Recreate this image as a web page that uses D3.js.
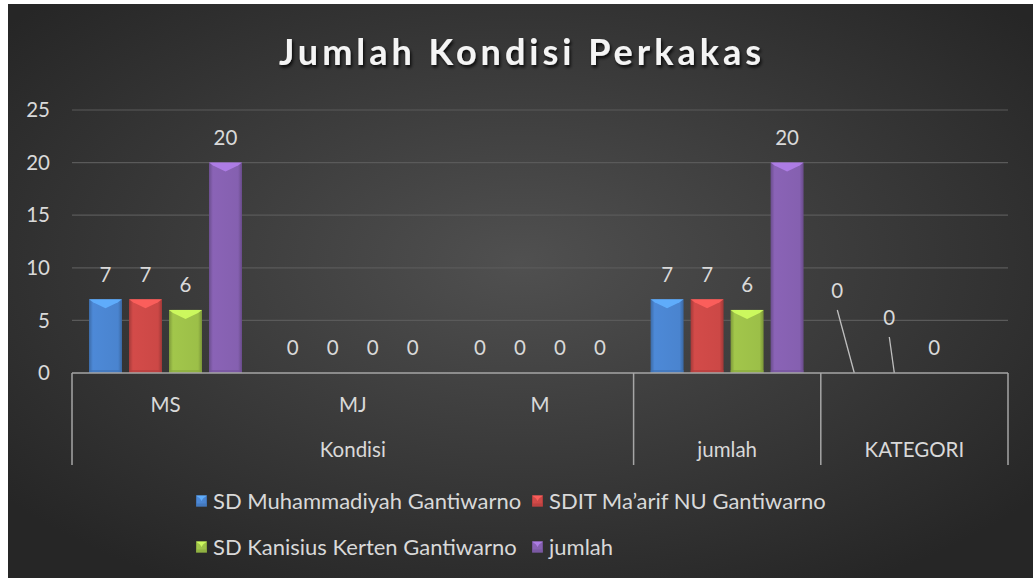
<!DOCTYPE html>
<meta charset="utf-8">
<style>
body { margin: 0; background: #fff; }
svg { display: block; }
text { font-family: Lato, "Open Sans", sans-serif; fill: #d9d9d9; }
.title { font-weight: bold; fill: #f4f4f4; letter-spacing: 4px; }
</style>
<script src="https://d3js.org/d3.v7.min.js"></script>
<body>
<svg width="1033" height="578"></svg>
</body>
<script>

// categories (two-level axis)
var categories = ["MS", "MJ", "M", "jumlah", "KATEGORI"];
var groups = ["Kondisi", "Kondisi", "Kondisi", "jumlah", "KATEGORI"];

// series values
var muhammadiyah = [7, 0, 0, 7, 0];
var maarif = [7, 0, 0, 7, 0];
var kanisius = [6, 0, 0, 6, 0];
var jumlah = [20, 0, 0, 20, null];

var seriesNames = ["SD Muhammadiyah Gantiwarno", "SDIT Ma\u2019arif NU Gantiwarno",
                   "SD Kanisius Kerten Gantiwarno", "jumlah"];
var yTicks = [0, 5, 10, 15, 20, 25];

var colors = ["#4a84cf", "#cc4846", "#9cbf48", "#8560b0"];
var series = [muhammadiyah, maarif, kanisius, jumlah];

var fs = "20.5px";

var svg = d3.select("svg");
var defs = svg.append("defs");

// background gradient
var bg = defs.append("radialGradient").attr("id", "bg")
    .attr("cx", "50%").attr("cy", "45%").attr("r", "65%");
bg.append("stop").attr("offset", "0%").attr("stop-color", "#505050");
bg.append("stop").attr("offset", "100%").attr("stop-color", "#262626");

svg.append("rect").attr("x", 8).attr("y", 4).attr("width", 1025).attr("height", 574)
    .attr("fill", "url(#bg)");

var shadow = defs.append("filter").attr("id", "shadow")
    .attr("x", "-10%").attr("y", "-20%").attr("width", "120%").attr("height", "150%");
shadow.append("feDropShadow").attr("dx", 1.5).attr("dy", 2.5).attr("stdDeviation", 1.5)
    .attr("flood-color", "#000").attr("flood-opacity", 0.8);

// bar gradients
colors.forEach(function(c, i) {
  var g = defs.append("linearGradient").attr("id", "bar" + i)
      .attr("x1", "0%").attr("x2", "100%").attr("y1", "0%").attr("y2", "0%");
  var base = d3.color(c);
  g.append("stop").attr("offset", "0%").attr("stop-color", base.darker(0.6));
  g.append("stop").attr("offset", "12%").attr("stop-color", base.brighter(0.1));
  g.append("stop").attr("offset", "88%").attr("stop-color", base);
  g.append("stop").attr("offset", "100%").attr("stop-color", base.darker(0.7));
});

var x0 = d3.scaleBand().domain(d3.range(categories.length)).range([72, 1008]);
var x1 = d3.scaleBand().domain(d3.range(series.length)).range([17, 170])
    .paddingInner(0.175);
var y = d3.scaleLinear().domain([0, 25]).range([373, 110]);

// gridlines
svg.append("g").selectAll("line").data(yTicks.slice(1)).enter().append("line")
    .attr("x1", 72).attr("x2", 1008)
    .attr("y1", function(d) { return y(d); }).attr("y2", function(d) { return y(d); })
    .attr("stroke", "#5a5a5a").attr("stroke-width", 1.2);

// y tick labels
svg.append("g").selectAll("text").data(yTicks).enter().append("text")
    .attr("x", 50).attr("y", function(d) { return y(d); })
    .attr("dy", "0.35em").attr("text-anchor", "end")
    .style("font-size", fs).text(function(d) { return d; });

function drawBar(g, x, yTop, w, h, i) {
  var c = d3.color(colors[i]);
  g.append("rect").attr("x", x).attr("y", yTop).attr("width", w).attr("height", h)
      .attr("fill", "url(#bar" + i + ")");
  var b = Math.min(9, h / 2);
  g.append("path")
      .attr("d", "M" + x + "," + yTop + "L" + (x + w) + "," + yTop + "L" + (x + w - 4) + "," + (yTop + 3)
        + "L" + (x + w / 2) + "," + (yTop + b) + "L" + (x + 4) + "," + (yTop + 3) + "Z")
      .attr("fill", c.brighter(0.8)).attr("opacity", 0.9);
  g.append("rect").attr("x", x).attr("y", yTop + h - 3).attr("width", w).attr("height", 3)
      .attr("fill", c.darker(0.4)).attr("opacity", 0.6);
}

// bars
var barG = svg.append("g");
series.forEach(function(vals, s) {
  vals.forEach(function(v, c) {
    if (v === null || v === 0) return;
    var bx = x0(c) + x1(s);
    drawBar(barG, bx, y(v), x1.bandwidth(), y(0) - y(v), s);
  });
});

// data labels (KATEGORI labels are dragged up with leader lines)
var moved = { "4-0": [-17, -82], "4-1": [-5, -55] };
var labG = svg.append("g");
series.forEach(function(vals, s) {
  vals.forEach(function(v, c) {
    if (v === null) return;
    var cx = x0(c) + x1(s) + x1.bandwidth() / 2;
    var cy = y(v) - 25;
    var m = moved[c + "-" + s];
    if (m) {
      labG.append("line").attr("x1", cx + m[0]).attr("y1", y(0) + m[1] + 19)
          .attr("x2", cx).attr("y2", y(0))
          .attr("stroke", "#bfbfbf").attr("stroke-width", 1.3);
      labG.append("text").attr("x", cx + m[0]).attr("y", y(0) + m[1])
          .attr("text-anchor", "middle").attr("dy", "0.35em")
          .style("font-size", fs).text(v);
    } else {
      labG.append("text").attr("x", cx).attr("y", cy)
          .attr("text-anchor", "middle").attr("dy", "0.35em")
          .style("font-size", fs).text(v);
    }
  });
});

// category axis
var axG = svg.append("g");
axG.append("line").attr("x1", 72).attr("x2", 1008).attr("y1", y(0)).attr("y2", y(0))
    .attr("stroke", "#a6a6a6").attr("stroke-width", 1.5);
var bounds = [0];
groups.forEach(function(g, i) { if (i > 0 && g !== groups[i - 1]) bounds.push(i); });
bounds.push(categories.length);
bounds.forEach(function(b) {
  var bx = b < categories.length ? x0(b) : x0.range()[1];
  axG.append("line").attr("x1", bx).attr("x2", bx).attr("y1", y(0)).attr("y2", 465)
      .attr("stroke", "#a6a6a6").attr("stroke-width", 1.5);
});
categories.forEach(function(c, i) {
  if (c === groups[i]) return;
  axG.append("text").attr("x", x0(i) + x0.bandwidth() / 2).attr("y", 405)
      .attr("dy", "0.35em").attr("text-anchor", "middle").style("font-size", fs).text(c);
});
for (var k = 0; k < bounds.length - 1; k++) {
  var a = x0(bounds[k]);
  var b = bounds[k + 1] < categories.length ? x0(bounds[k + 1]) : x0.range()[1];
  axG.append("text").attr("x", (a + b) / 2).attr("y", 450)
      .attr("dy", "0.35em").attr("text-anchor", "middle").style("font-size", fs)
      .text(groups[bounds[k]]);
}

// title
svg.append("text").attr("class", "title").attr("x", 522).attr("y", 65)
    .attr("text-anchor", "middle").style("font-size", "36px")
    .attr("filter", "url(#shadow)").text("Jumlah Kondisi Perkakas");

// legend
var legPos = [[196, 501], [532, 501], [196, 547], [532, 547]];
var legG = svg.append("g");
seriesNames.forEach(function(n, i) {
  var p = legPos[i];
  drawBar(legG, p[0], p[1] - 5.5, 11, 11, i);
  legG.append("text").attr("x", p[0] + 17).attr("y", p[1]).attr("dy", "0.35em")
      .style("font-size", "22px").text(n);
});

</script>
